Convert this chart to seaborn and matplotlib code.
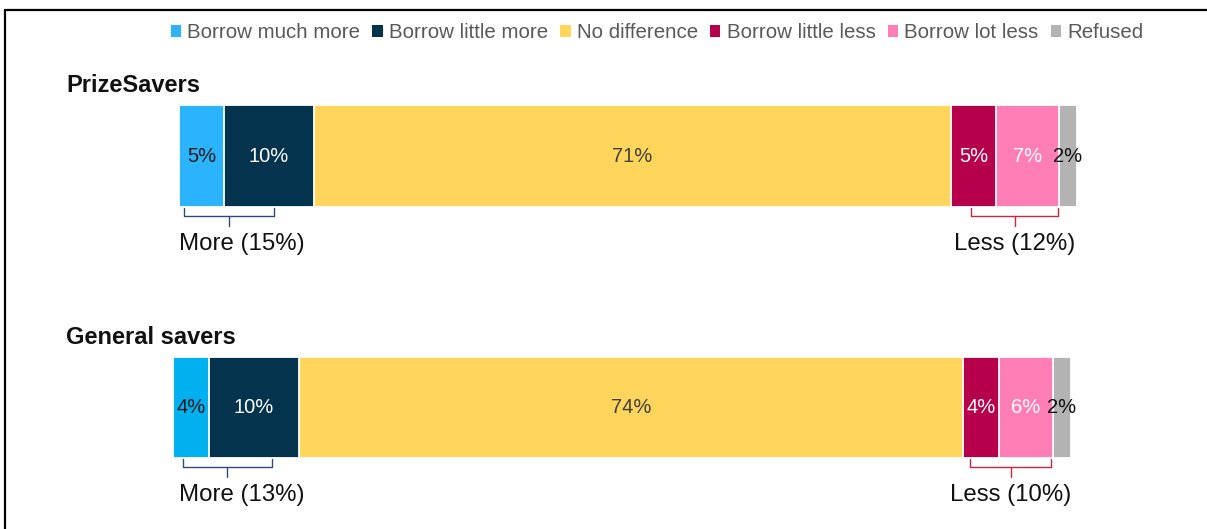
import numpy as np
import pandas as pd
import matplotlib
matplotlib.use("Agg")
import matplotlib.pyplot as plt
from matplotlib.patches import Patch
from matplotlib.lines import Line2D
import seaborn as sns

# ---------------- data ----------------
categories = ["Borrow much more", "Borrow little more", "No difference",
              "Borrow little less", "Borrow lot less", "Refused"]
groups = ["PrizeSavers", "General savers"]
prize_values = [5, 10, 71, 5, 7, 2]
general_values = [4, 10, 74, 4, 6, 2]
more_totals = [15, 13]
less_totals = [12, 10]

colors = ["#2BB4FD", "#03334D", "#FFD55B", "#B7004B", "#FF7EB5", "#B3B3B3"]
colors_row2 = ["#00B0EF", "#03334D", "#FFD55B", "#B7004B", "#FF7EB5", "#B3B3B3"]
label_colors = ["#1a1a1a", "white", "#404040", "white", "white", "#111111"]

sns.set_theme(style="white")
plt.rcParams["font.family"] = ["Liberation Sans", "DejaVu Sans"]

W, H = 1207, 529
fig = plt.figure(figsize=(W / 100, H / 100), dpi=100)


def fbox(x0, y0, x1, y1):
    return [x0 / W, 1 - y1 / H, (x1 - x0) / W, (y1 - y0) / H]


axes_boxes = [fbox(179, 105, 1077, 207), fbox(173, 357, 1071, 458)]
title_y = [86, 338]
values_list = [prize_values, general_values]
palettes = [colors, colors_row2]
# bracket spans in data units (annotation layout)
more_span = [(0.6, 10.6), (1.1, 11.0)]
less_span = [(88.2, 97.9), (88.8, 97.8)]
more_text_x = [7.0, 7.7]

for gi, g in enumerate(groups):
    ax = fig.add_axes(axes_boxes[gi])
    vals = values_list[gi]
    cum = np.cumsum(vals)
    df = pd.DataFrame({"group": [g] * len(vals), "cum": cum, "seg": categories})
    for i in reversed(range(len(vals))):
        sns.barplot(data=df.iloc[[i]], x="cum", y="group", orient="h",
                    color=palettes[gi][i], saturation=1, width=1,
                    edgecolor="white", linewidth=1.3, ax=ax)
    ax.set_xlim(0, 100)
    ax.set_ylim(0.5, -0.5)
    ax.set_axis_off()
    for i, v in enumerate(vals):
        ax.text(cum[i] - v / 2, 0, f"{v}%", ha="center", va="center",
                fontsize=14.5, color=label_colors[i])

    tr = ax.get_xaxis_transform()
    hpx = axes_boxes[gi][3] * H
    top, mid, stem = -1 / hpx, -9 / hpx, -19 / hpx
    for (a, b), c in [(more_span[gi], "#2E4A7D"), (less_span[gi], "#C8283C")]:
        ax.plot([a, a, b, b], [top, mid, mid, top], color=c, lw=1.0,
                transform=tr, clip_on=False)
        m = (a + b) / 2
        ax.plot([m, m], [mid, stem], color=c, lw=1.0, transform=tr, clip_on=False)
    ty = -37 / hpx
    ax.text(more_text_x[gi], ty, f"More ({more_totals[gi]}%)", ha="center",
            va="center", fontsize=17.3, color="#111111", transform=tr)
    ax.text((less_span[gi][0] + less_span[gi][1]) / 2, ty,
            f"Less ({less_totals[gi]}%)", ha="center", va="center",
            fontsize=17.3, color="#111111", transform=tr)

    fig.text(66 / W, 1 - title_y[gi] / H, g, fontsize=17, fontweight="bold",
             ha="left", va="center", color="#111111")

handles = [Patch(facecolor=c, edgecolor="none", label=l) for c, l in zip(colors, categories)]
leg = fig.legend(handles=handles, loc="center", bbox_to_anchor=(657 / W, 1 - 33 / H),
                 ncol=6, frameon=False, fontsize=14.8, handlelength=0.5,
                 handleheight=0.5, handletextpad=0.3, columnspacing=0.6,
                 labelcolor="#595959")

# border lines (left & top)
fig.add_artist(Line2D([5 / W, 5 / W], [0, 1 - 10 / H], color="black", lw=1.6))
fig.add_artist(Line2D([5 / W, 1], [1 - 10 / H, 1 - 10 / H], color="black", lw=1.6))

fig.savefig("out.png", dpi=100)
